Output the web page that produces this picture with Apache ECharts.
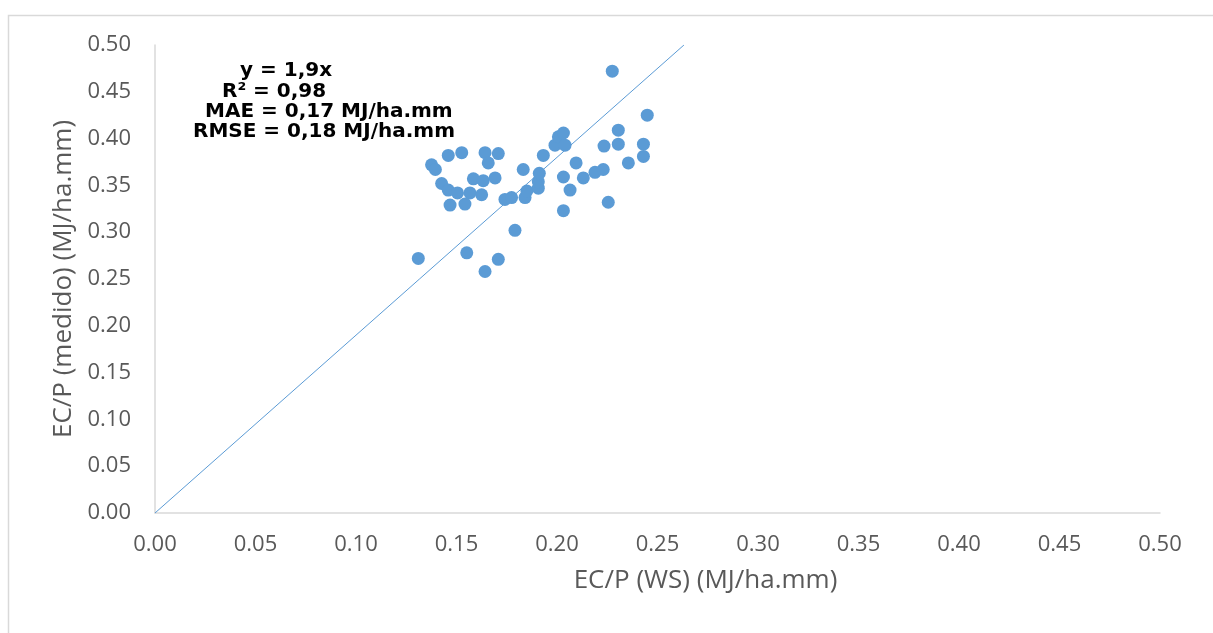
<!DOCTYPE html>
<html>
<head>
<meta charset="utf-8">
<script src="https://cdn.jsdelivr.net/npm/echarts@6/dist/echarts.min.js"></script>
<style>
html,body{margin:0;padding:0;background:#fff;}
#chart{width:1213px;height:633px;}
</style>
</head>
<body>
<div id="chart"></div>
<script>
// EC/P (WS) values (x) and EC/P measured values (y)
const wsValues = [0.131,0.1376,0.1395,0.1459,0.1526,0.1426,0.1459,0.1505,0.1567,0.1468,0.1542,0.1551,0.1584,0.1633,0.1692,0.1625,0.1642,0.1708,0.1658,0.1642,0.1708,0.1741,0.1774,0.1791,0.1832,0.1841,0.185,0.1907,0.1907,0.1912,0.1932,0.199,0.2007,0.2032,0.204,0.2032,0.2032,0.2065,0.2095,0.2131,0.2189,0.223,0.2234,0.2255,0.2275,0.2305,0.2305,0.2355,0.243,0.243,0.2449];
const measuredValues = [0.272,0.372,0.367,0.382,0.385,0.352,0.345,0.342,0.342,0.329,0.330,0.278,0.357,0.355,0.358,0.340,0.385,0.384,0.374,0.258,0.271,0.335,0.337,0.302,0.367,0.337,0.344,0.347,0.354,0.363,0.382,0.393,0.402,0.406,0.393,0.359,0.323,0.345,0.374,0.358,0.364,0.367,0.392,0.332,0.472,0.409,0.394,0.374,0.394,0.381,0.425];
const trendSlope = 1.9;
const axisMin = 0, axisMax = 0.5, axisStep = 0.05;
const xAxisTitle = 'EC/P (WS) (MJ/ha.mm)';
const yAxisTitle = 'EC/P (medido) (MJ/ha.mm)';
const annotationLines = ['y = 1,9x', 'R² = 0,98', 'MAE = 0,17 MJ/ha.mm', 'RMSE = 0,18 MJ/ha.mm'];

const points = wsValues.map((x, i) => [x, measuredValues[i]]);
const trend = [[0, 0], [axisMax / trendSlope, axisMax]];

const chart = echarts.init(document.getElementById('chart'), null, {renderer: 'canvas'});
const labelFont = {color: '#595959', fontSize: 22, fontFamily: '"Open Sans", sans-serif'};
const nameFont = {color: '#595959', fontSize: 26, fontFamily: '"Open Sans", sans-serif'};
const annotLeft = [240, 222, 205, 193];
const annotY = [71, 92, 112, 132];

const option = {
  backgroundColor: '#ffffff',
  animation: false,
  grid: {left: 155, right: 53, top: 45, bottom: 120, containLabel: false},
  xAxis: {
    type: 'value', min: axisMin, max: axisMax, interval: axisStep,
    name: xAxisTitle, nameLocation: 'middle', nameGap: 55,
    nameTextStyle: Object.assign({}, nameFont, {padding: [0, 0, 0, 96]}),
    axisLine: {show: true, lineStyle: {color: '#d9d9d9', width: 1.5}},
    axisTick: {show: false},
    splitLine: {show: false},
    axisLabel: Object.assign({}, labelFont, {margin: 21, formatter: v => v.toFixed(2)})
  },
  yAxis: {
    type: 'value', min: axisMin, max: axisMax, interval: axisStep,
    name: yAxisTitle, nameLocation: 'middle', nameGap: 77, nameRotate: 90,
    nameTextStyle: nameFont,
    axisLine: {show: true, lineStyle: {color: '#d9d9d9', width: 1.5}},
    axisTick: {show: false},
    splitLine: {show: false},
    axisLabel: Object.assign({}, labelFont, {margin: 24, formatter: v => v.toFixed(2)})
  },
  series: [
    {
      type: 'line', data: trend, symbol: 'none', silent: true,
      lineStyle: {color: '#5B9BD5', width: 1}, z: 1
    },
    {
      type: 'scatter', data: points, symbol: 'circle', symbolSize: 13,
      itemStyle: {color: '#5B9BD5', opacity: 1}, z: 2
    }
  ],
  graphic: [
    {type: 'rect', left: 6, top: 13, z: -10, silent: true,
     shape: {width: 1300, height: 700},
     style: {fill: 'none', stroke: '#d9d9d9', lineWidth: 1.5}}
  ].concat(annotationLines.map((t, i) => ({
    type: 'text', x: annotLeft[i], y: annotY[i], z: 10, silent: true,
    style: {text: t, fill: '#000000', font: 'bold 20px "DejaVu Sans"', textVerticalAlign: 'middle'}
  })))
};
chart.setOption(option);
</script>
</body>
</html>
